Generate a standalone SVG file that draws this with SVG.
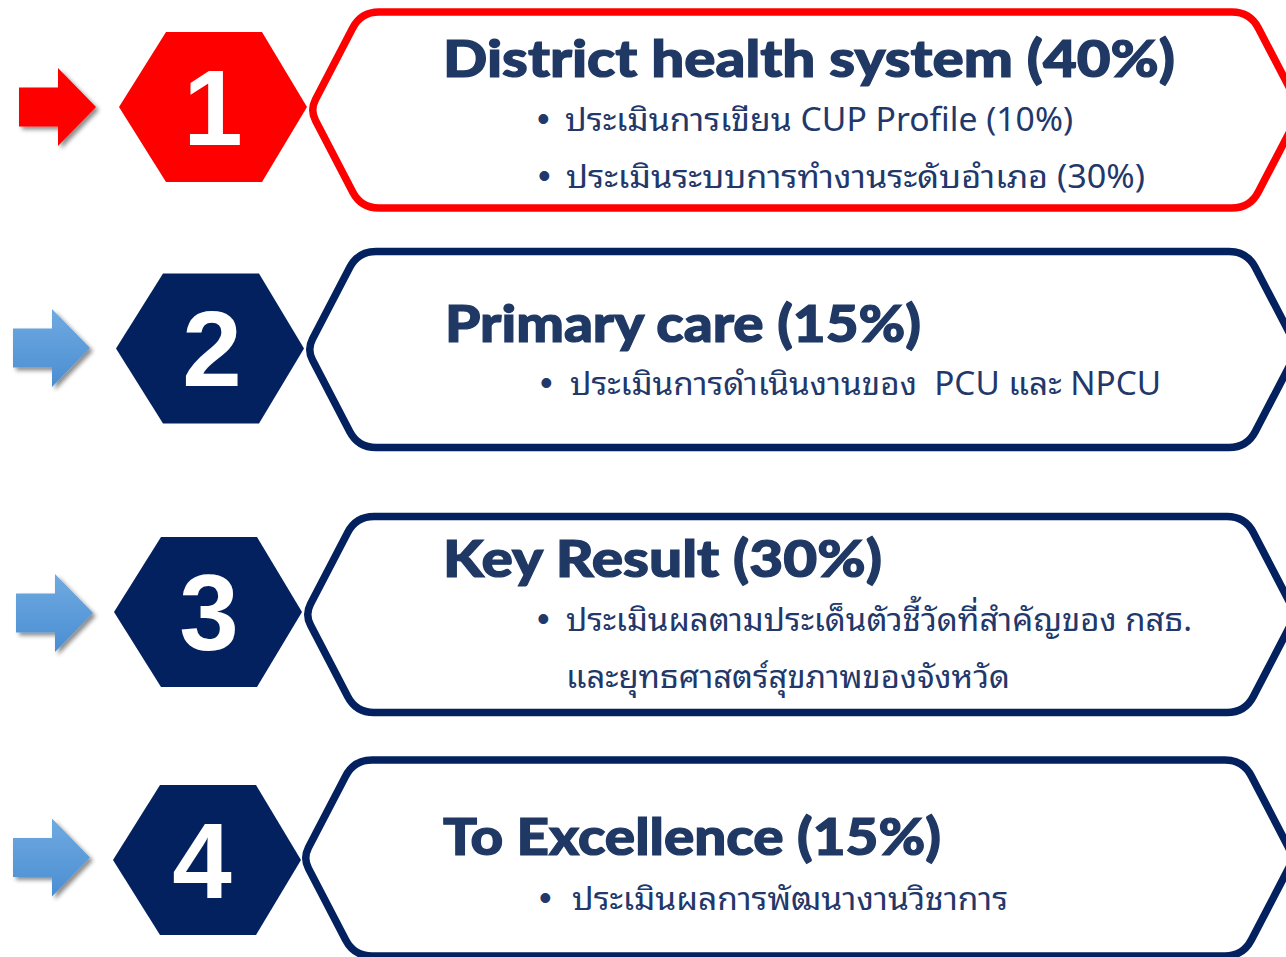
<svg xmlns="http://www.w3.org/2000/svg" width="1286" height="957" viewBox="0 0 1286 957">
<defs>
<style>
.title{font-family:"Lato","Liberation Sans",sans-serif;font-weight:900;font-size:51px;fill:#1f3864;stroke:#1f3864;stroke-width:1.2px}
.body{font-family:"Noto Sans Thai Looped","Loma","Garuda","Tahoma","Leelawadee UI","Noto Sans Thai","Noto Sans",sans-serif;font-size:32px;fill:#22386a}
.bul{font-family:"Liberation Sans",sans-serif;font-size:36px;fill:#22386a}
.num{font-family:"Liberation Sans",Arial,sans-serif;font-weight:700;font-size:107px;fill:#ffffff;text-anchor:middle}
.frame{fill:#ffffff;stroke-width:7.5}
</style>
<linearGradient id="blueG" x1="0" y1="0" x2="0" y2="1">
<stop offset="0" stop-color="#70aae0"/>
<stop offset="1" stop-color="#4a8ed3"/>
</linearGradient>
<filter id="sh" x="-20%" y="-20%" width="150%" height="150%">
<feDropShadow dx="3" dy="3" stdDeviation="2.2" flood-color="#000" flood-opacity="0.45"/>
</filter>
<path id="frameP" d="M5.5,-10.6 L42.7,-82 Q51,-98 69,-98 L922,-98 Q940,-98 948.3,-82 L985.5,-10.6 Q991,0 985.5,10.6 L948.3,82 Q940,98 922,98 L69,98 Q51,98 42.7,82 L5.5,10.6 Q0,0 5.5,-10.6 Z"/>
<path id="hexP" d="M0,0 L47,-75 L143,-75 L188,0 L143,75 L47,75 Z"/>
<path id="arrP" d="M0,-19.5 L39,-19.5 L39,-39 L77,0 L39,39 L39,19.5 L0,19.5 Z"/>
</defs>
<rect width="1286" height="957" fill="#ffffff"/>

<g id="connectors">
<use href="#arrP" transform="translate(19,107)" fill="#ff0000" filter="url(#sh)"/>
<use href="#arrP" transform="translate(13,348)" fill="url(#blueG)" filter="url(#sh)"/>
<use href="#arrP" transform="translate(16,613)" fill="url(#blueG)" filter="url(#sh)"/>
<use href="#arrP" transform="translate(13,857.5)" fill="url(#blueG)" filter="url(#sh)"/>
</g>

<g id="node1">
<use href="#frameP" class="frame" stroke="#ff0000" transform="translate(310,110)"/>
<use href="#hexP" fill="#ff0000" transform="translate(119,107)"/>
<text class="num" x="213" y="145">1</text>
<text class="title" x="443" y="77" textLength="732" lengthAdjust="spacingAndGlyphs">District health system (40%)</text>
<text class="bul" x="537" y="131">•</text>
<text class="body" x="565" y="131" textLength="508" lengthAdjust="spacingAndGlyphs">ประเมินการเขียน CUP Profile (10%)</text>
<text class="bul" x="538" y="188">•</text>
<text class="body" x="566" y="188" textLength="579" lengthAdjust="spacingAndGlyphs">ประเมินระบบการทำงานระดับอำเภอ (30%)</text>
</g>

<g id="node2">
<use href="#frameP" class="frame" stroke="#03215e" transform="translate(307,349.5)"/>
<use href="#hexP" fill="#03215e" transform="translate(116,348.5)"/>
<text class="num" x="212" y="386">2</text>
<text class="title" x="445" y="342" textLength="476" lengthAdjust="spacingAndGlyphs">Primary care (15%)</text>
<text class="bul" x="540" y="395">•</text>
<text class="body" x="570" y="395" textLength="591" lengthAdjust="spacingAndGlyphs" xml:space="preserve">ประเมินการดำเนินงานของ  PCU และ NPCU</text>
</g>

<g id="node3">
<use href="#frameP" class="frame" stroke="#03215e" transform="translate(305,614.5)"/>
<use href="#hexP" fill="#03215e" transform="translate(114,612)"/>
<text class="num" x="209" y="650">3</text>
<text class="title" x="443" y="577" textLength="439" lengthAdjust="spacingAndGlyphs">Key Result (30%)</text>
<text class="bul" x="537" y="631">•</text>
<text class="body" x="566" y="631" textLength="626" lengthAdjust="spacingAndGlyphs">ประเมินผลตามประเด็นตัวชี้วัดที่สำคัญของ กสธ.</text>
<text class="body" x="566" y="688" textLength="444" lengthAdjust="spacingAndGlyphs">และยุทธศาสตร์สุขภาพของจังหวัด</text>
</g>

<g id="node4">
<use href="#frameP" class="frame" stroke="#03215e" transform="translate(303,858)"/>
<use href="#hexP" fill="#03215e" transform="translate(113,860)"/>
<text class="num" x="202" y="898">4</text>
<text class="title" x="443" y="855" textLength="498" lengthAdjust="spacingAndGlyphs">To Excellence (15%)</text>
<text class="bul" x="539" y="910">•</text>
<text class="body" x="572" y="910" textLength="436" lengthAdjust="spacingAndGlyphs">ประเมินผลการพัฒนางานวิชาการ</text>
</g>
</svg>
